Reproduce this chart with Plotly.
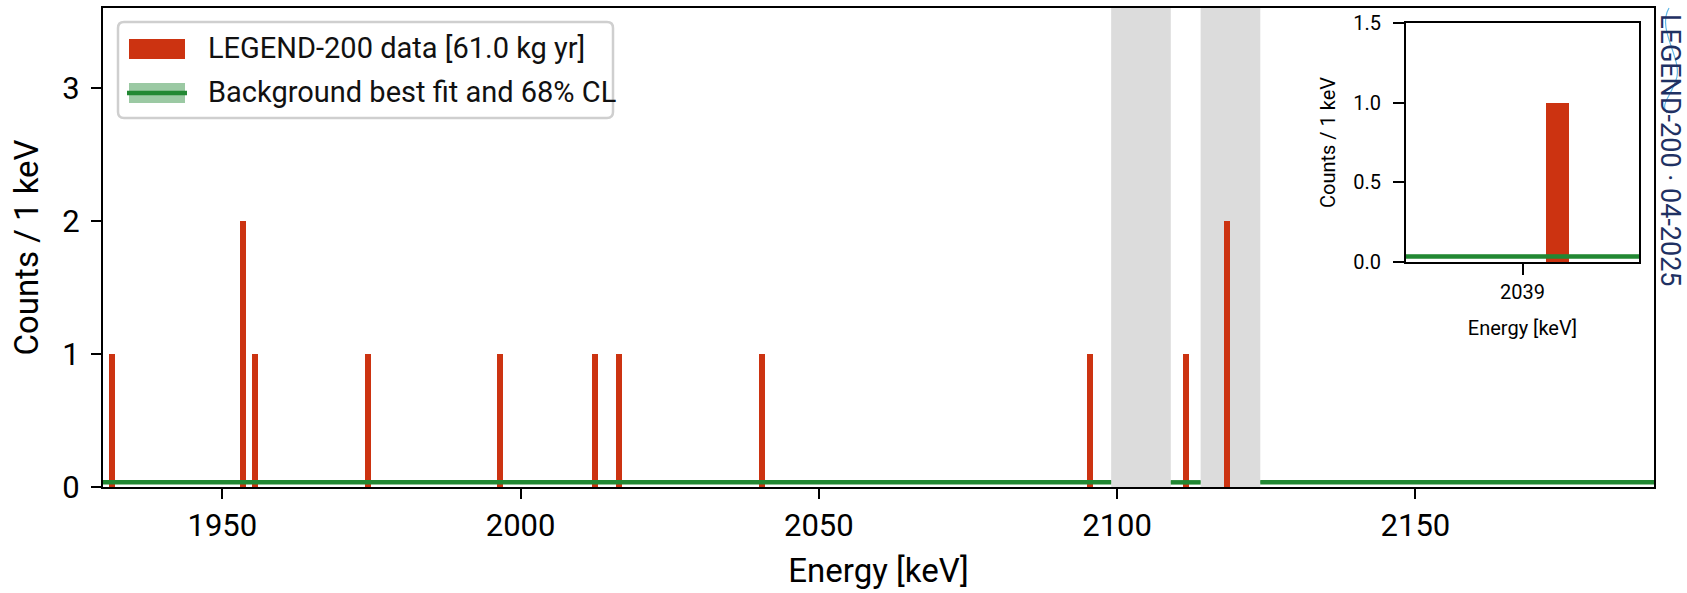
import plotly.graph_objects as go

# ---------------- data ----------------
bin_centers = [1931.5, 1953.5, 1955.5, 1974.5, 1996.5, 2012.5, 2016.5,
               2040.5, 2095.5, 2111.5, 2118.5]
counts = [1, 2, 1, 1, 1, 1, 1, 1, 1, 1, 2]
bin_width = 1.0
bkg_best = 0.035
bkg_low = 0.028
bkg_high = 0.045
excluded_windows = [(2099, 2109), (2114, 2124)]
x_range = [1930, 2190]
y_range = [0, 3.6]
x_ticks = [1950, 2000, 2050, 2100, 2150]
y_ticks = [0, 1, 2, 3]
inset_x_range = [2034, 2044]
inset_x_ticks = [2039]
inset_y_range = [0, 1.5]
inset_y_ticks = [0.0, 0.5, 1.0, 1.5]
legend_labels = ["LEGEND-200 data [61.0 kg yr]", "Background best fit and 68% CL"]
x_title = "Energy [keV]"
y_title = "Counts / 1 keV"
watermark = "LEGEND-200 · 04-2025"

# ---------------- style ----------------
RED = "#cc3311"
GREEN = "#228833"
BAND = "rgba(34,136,51,0.45)"
GRAY = "#dcdcdc"
NAVY = "#1f3163"
FONT = "Roboto"

W, H = 1687, 593
ML, MR, MT, MB = 103, 33, 8, 106
PW, PH = W - ML - MR, H - MT - MB


def px_x(p):
    return (p - ML) / PW


def px_y(p):
    return (H - MB - p) / PH


def allowed_segments(lo, hi, windows):
    segs, cur = [], lo
    for a, b in sorted(windows):
        if a > cur:
            segs.append((cur, min(a, hi)))
        cur = max(cur, b)
    if cur < hi:
        segs.append((cur, hi))
    return segs


def bkg_traces(lo, hi, xa, ya):
    segs = allowed_segments(lo, hi, excluded_windows)
    bx, by, lx, ly = [], [], [], []
    for a, b in segs:
        bx += [a, b, b, a, a, None]
        by += [bkg_low, bkg_low, bkg_high, bkg_high, bkg_low, None]
        lx += [a, b, None]
        ly += [bkg_best, bkg_best, None]
    band = go.Scatter(x=bx, y=by, fill="toself", fillcolor=BAND, mode="none",
                      hoverinfo="skip", showlegend=False, xaxis=xa, yaxis=ya)
    line = go.Scatter(x=lx, y=ly, mode="lines", line=dict(color=GREEN, width=4.5),
                      hoverinfo="skip", showlegend=False, xaxis=xa, yaxis=ya)
    return [band, line]


fig = go.Figure()

# main panel
for t in bkg_traces(x_range[0], x_range[1], "x", "y"):
    fig.add_trace(t)
fig.add_trace(go.Bar(x=bin_centers, y=counts, width=bin_width,
                     marker=dict(color=RED, line=dict(width=0)),
                     showlegend=False, xaxis="x", yaxis="y"))

# inset panel
for t in bkg_traces(inset_x_range[0], inset_x_range[1], "x2", "y2"):
    fig.add_trace(t)
ins_x = [c for c in bin_centers if inset_x_range[0] <= c <= inset_x_range[1]]
ins_y = [n for c, n in zip(bin_centers, counts) if inset_x_range[0] <= c <= inset_x_range[1]]
fig.add_trace(go.Bar(x=ins_x, y=ins_y, width=bin_width,
                     marker=dict(color=RED, line=dict(width=0)),
                     showlegend=False, xaxis="x2", yaxis="y2"))

shapes = []
for a, b in excluded_windows:
    shapes.append(dict(type="rect", xref="x", yref="y domain", x0=a, x1=b, y0=0, y1=1,
                       fillcolor=GRAY, line=dict(width=0), layer="below"))

# manual legend (box + symbols)
bx0, bx1, by0, by1 = px_x(118), px_x(613), px_y(22), px_y(118)
rx = 6 / PW
ry = 6 / PH
path = (f"M{bx0+rx},{by0} L{bx1-rx},{by0} Q{bx1},{by0} {bx1},{by0-ry} "
        f"L{bx1},{by1+ry} Q{bx1},{by1} {bx1-rx},{by1} L{bx0+rx},{by1} "
        f"Q{bx0},{by1} {bx0},{by1+ry} L{bx0},{by0-ry} Q{bx0},{by0} {bx0+rx},{by0} Z")
shapes.append(dict(type="path", xref="paper", yref="paper", path=path,
                   fillcolor="rgba(255,255,255,0.85)", line=dict(color="#cfcfcf", width=2.5),
                   layer="above"))
shapes.append(dict(type="rect", xref="paper", yref="paper",
                   x0=px_x(129), x1=px_x(185), y0=px_y(59), y1=px_y(39),
                   fillcolor=RED, line=dict(width=0), layer="above"))
shapes.append(dict(type="rect", xref="paper", yref="paper",
                   x0=px_x(129), x1=px_x(185), y0=px_y(103), y1=px_y(83),
                   fillcolor="rgba(34,136,51,0.45)", line=dict(width=0), layer="above"))
shapes.append(dict(type="line", xref="paper", yref="paper",
                   x0=px_x(127), x1=px_x(187), y0=px_y(93), y1=px_y(93),
                   line=dict(color=GREEN, width=4.5), layer="above"))
# logo swirl next to the watermark
swirl = (f"M{px_x(1669)},{px_y(8)} C{px_x(1656)},{px_y(30)} {px_x(1684)},{px_y(60)} "
         f"{px_x(1676)},{px_y(80)} C{px_x(1670)},{px_y(98)} {px_x(1660)},{px_y(104)} "
         f"{px_x(1667)},{px_y(113)}")
shapes.append(dict(type="path", xref="paper", yref="paper", path=swirl,
                   line=dict(color="#5fb8e8", width=1.2), layer="above"))

annotations = [
    dict(text=legend_labels[0], xref="paper", yref="paper", x=px_x(206), y=px_y(48),
         xanchor="left", yanchor="middle", showarrow=False,
         font=dict(family=FONT, size=29, color="#111111")),
    dict(text=legend_labels[1], xref="paper", yref="paper", x=px_x(206), y=px_y(92),
         xanchor="left", yanchor="middle", showarrow=False,
         font=dict(family=FONT, size=29, color="#111111")),
    dict(text=watermark, xref="paper", yref="paper", x=px_x(1670), y=px_y(150),
         xanchor="center", yanchor="middle", textangle=90, showarrow=False,
         font=dict(family=FONT, size=27, color=NAVY)),
]

axis_common = dict(showline=True, linewidth=2, linecolor="black", mirror=True,
                   ticks="outside", tickwidth=2, tickcolor="black",
                   showgrid=False, zeroline=False, automargin=False)

fig.update_layout(
    width=W, height=H,
    margin=dict(l=ML, r=MR, t=MT, b=MB, pad=0),
    paper_bgcolor="white", plot_bgcolor="white",
    font=dict(family=FONT, color="black"),
    bargap=0, barmode="overlay",
    xaxis=dict(range=x_range, tickvals=x_ticks, ticklen=10,
               tickfont=dict(size=31), domain=[0, 1],
               title=dict(text=x_title, font=dict(size=33), standoff=16),
               **axis_common),
    yaxis=dict(range=y_range, tickvals=y_ticks, ticklen=10, ticklabelstandoff=5,
               tickfont=dict(size=31), domain=[0, 1],
               title=dict(text=y_title, font=dict(size=33), standoff=14),
               **axis_common),
    xaxis2=dict(range=inset_x_range, tickvals=inset_x_ticks, ticklen=11,
                tickfont=dict(size=20), anchor="y2",
                domain=[px_x(1406), px_x(1639)],
                title=dict(text=x_title, font=dict(size=20), standoff=18),
                **axis_common),
    yaxis2=dict(range=inset_y_range, tickvals=inset_y_ticks, ticklen=11,
                ticklabelstandoff=8,
                tickformat=".1f", tickfont=dict(size=20), anchor="x2",
                domain=[px_y(262), px_y(23)],
                title=dict(text=y_title, font=dict(size=20), standoff=12),
                **axis_common),
    shapes=shapes,
    annotations=annotations,
    showlegend=False,
)

fig.write_html("out.html")
